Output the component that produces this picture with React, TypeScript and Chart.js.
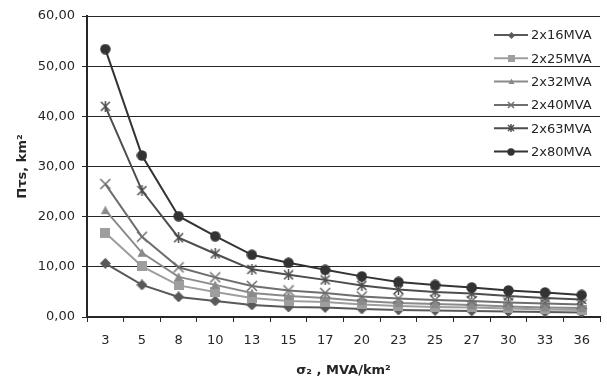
import React, { useEffect, useRef } from "react";
import { Chart, registerables } from "chart.js";

Chart.register(...registerables);

const categories = ["3", "5", "8", "10", "13", "15", "17", "20", "23", "25", "27", "30", "33", "36"];
const seriesNames = ["2x16MVA", "2x25MVA", "2x32MVA", "2x40MVA", "2x63MVA", "2x80MVA"];
const s16 = [10.7, 6.4, 4.0, 3.2, 2.4, 2.0, 1.9, 1.6, 1.4, 1.3, 1.2, 1.1, 1.0, 0.9];
const s25 = [16.8, 10.1, 6.3, 5.0, 3.8, 3.2, 3.0, 2.5, 2.2, 2.0, 1.9, 1.7, 1.5, 1.4];
const s32 = [21.3, 12.8, 8.0, 6.4, 4.8, 4.2, 3.8, 3.2, 2.8, 2.6, 2.4, 2.1, 1.9, 1.8];
const s40 = [26.5, 16.0, 9.9, 7.9, 6.2, 5.3, 4.8, 4.1, 3.7, 3.4, 3.2, 2.9, 2.7, 2.5];
const s63 = [42.0, 25.2, 15.8, 12.6, 9.5, 8.4, 7.4, 6.3, 5.5, 5.0, 4.7, 4.2, 3.8, 3.5];
const s80 = [53.4, 32.2, 20.1, 16.1, 12.4, 10.8, 9.4, 8.1, 7.0, 6.4, 5.9, 5.3, 4.9, 4.4];
const yTicks = [0, 10, 20, 30, 40, 50, 60];

const seriesData = [s16, s25, s32, s40, s63, s80];
const colors = ["#595959", "#9e9e9e", "#8a8a8a", "#6e6e6e", "#4d4d4d", "#333333"];
const kinds = ["diamond", "square", "triangle", "x", "star", "circle"];
const markerSizes = [11, 10, 10, 12, 11, 11];
const legendSizes = [7, 7, 7, 8, 8, 8];

const FONT = "'DejaVu Sans', 'Liberation Sans', Arial, sans-serif";

function makeMarker(kind: string, color: string, size: number) {
  const c = document.createElement("canvas");
  c.width = size;
  c.height = size;
  const g = c.getContext("2d")!;
  const h = size / 2;
  g.fillStyle = color;
  g.strokeStyle = color;
  g.lineWidth = 1.5;
  g.beginPath();
  if (kind === "diamond") {
    g.moveTo(h, 0);
    g.lineTo(size, h);
    g.lineTo(h, size);
    g.lineTo(0, h);
    g.closePath();
    g.fill();
  } else if (kind === "square") {
    g.fillRect(0, 0, size, size);
  } else if (kind === "triangle") {
    g.moveTo(h, 0.5);
    g.lineTo(size - 0.5, size - 1);
    g.lineTo(0.5, size - 1);
    g.closePath();
    g.fill();
  } else if (kind === "x") {
    g.moveTo(1, 1);
    g.lineTo(size - 1, size - 1);
    g.moveTo(size - 1, 1);
    g.lineTo(1, size - 1);
    g.stroke();
  } else if (kind === "star") {
    g.moveTo(1, 1);
    g.lineTo(size - 1, size - 1);
    g.moveTo(size - 1, 1);
    g.lineTo(1, size - 1);
    g.moveTo(h, 0);
    g.lineTo(h, size);
    g.stroke();
  } else {
    g.arc(h, h, h - 0.3, 0, Math.PI * 2);
    g.fill();
  }
  return c;
}

export default function App() {
  const ref = useRef<HTMLCanvasElement | null>(null);

  useEffect(() => {
    document.body.style.margin = "0";
    const canvas = ref.current!;
    const markers = kinds.map((k, i) => makeMarker(k, colors[i], markerSizes[i]));
    const legendMarkers = kinds.map((k, i) => makeMarker(k, colors[i], legendSizes[i]));

    const legendPlugin = {
      id: "customLegend",
      afterDraw(chart: any) {
        const ctx = chart.ctx;
        const area = chart.chartArea;
        const x0 = area.right - 106;
        const x1 = area.right - 72;
        const xm = (x0 + x1) / 2;
        ctx.save();
        seriesNames.forEach((name, i) => {
          const y = area.top + 19 + i * 23.3;
          ctx.strokeStyle = colors[i];
          ctx.lineWidth = 2;
          ctx.beginPath();
          ctx.moveTo(x0, y);
          ctx.lineTo(x1, y);
          ctx.stroke();
          const m = legendMarkers[i];
          ctx.drawImage(m, Math.round(xm - m.width / 2), Math.round(y - m.height / 2));
          ctx.fillStyle = "#262626";
          ctx.font = `13px ${FONT}`;
          ctx.textBaseline = "middle";
          ctx.textAlign = "left";
          ctx.fillText(name, x1 + 3, y + 1);
        });
        ctx.restore();
      },
    };

    const chart = new Chart(canvas, {
      type: "line",
      data: {
        labels: categories,
        datasets: seriesData.map((d, i) => ({
          label: seriesNames[i],
          data: d,
          borderColor: colors[i],
          backgroundColor: colors[i],
          borderWidth: 2,
          pointStyle: markers[i] as any,
          pointRadius: 5,
          tension: 0,
          fill: false,
          order: 6 - i,
        })),
      },
      options: {
        responsive: false,
        animation: false,
        layout: { padding: { top: 16, right: 5, left: 0, bottom: 0 } },
        plugins: { legend: { display: false }, tooltip: { enabled: false } },
        scales: {
          x: {
            offset: true,
            grid: {
              display: true,
              drawOnChartArea: false,
              drawTicks: true,
              tickLength: 5,
              offset: true,
              color: "#262626",
              lineWidth: 1,
            },
            border: { display: true, color: "#262626", width: 2 },
            ticks: { color: "#262626", font: { family: FONT, size: 13 }, padding: 11, maxRotation: 0, autoSkip: false },
            title: {
              display: true,
              text: "σ₂ , MVA/km²",
              color: "#262626",
              font: { family: FONT, size: 13, weight: "bold" },
              padding: { top: 4, bottom: 4 },
            },
            afterFit(scale: any) {
              scale.height = 65;
            },
          },
          y: {
            min: 0,
            max: 60,
            afterBuildTicks(scale: any) {
              scale.ticks = yTicks.map((v) => ({ value: v }));
            },
            grid: { color: "#262626", lineWidth: 1, tickLength: 5, drawTicks: true },
            border: { display: true, color: "#262626", width: 2 },
            ticks: {
              color: "#262626",
              font: { family: FONT, size: 13 },
              padding: 7,
              callback: (v: any) => Number(v).toFixed(2).replace(".", ","),
            },
            title: {
              display: true,
              text: "Пτs, km²",
              color: "#262626",
              font: { family: FONT, size: 13, weight: "bold" },
              padding: { top: 15, bottom: 0 },
            },
            afterFit(scale: any) {
              scale.width = 87;
            },
          },
        },
      },
      plugins: [legendPlugin],
    });
    return () => chart.destroy();
  }, []);

  return (
    <div style={{ width: 607, height: 382 }}>
      <canvas ref={ref} width={607} height={382} style={{ display: "block" }} />
    </div>
  );
}
